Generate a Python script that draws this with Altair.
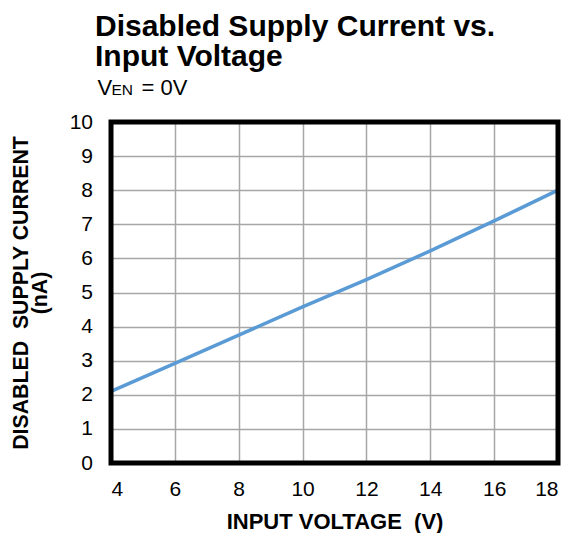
import altair as alt
import pandas as pd

# Data
voltage = [4, 6, 8, 10, 12, 14, 16, 18]
current = [2.1, 2.92, 3.75, 4.58, 5.38, 6.22, 7.1, 8.0]
x_ticks = [4, 6, 8, 10, 12, 14, 16, 18]
y_ticks = [0, 1, 2, 3, 4, 5, 6, 7, 8, 9, 10]

title_lines = ["Disabled Supply Current vs.", "Input Voltage"]
x_title = "INPUT VOLTAGE\u00a0\u00a0(V)"
y_title = ["DISABLED\u00a0\u00a0SUPPLY CURRENT", "(nA)"]
sub_parts = ["V", "EN", "= 0V"]

FONT = "Liberation Sans"
W, H = 447, 341

df = pd.DataFrame({"v": voltage, "i": current})
one = pd.DataFrame({"k": [0]})

line = alt.Chart(df).mark_line(color="#5B9BD5", strokeWidth=3.5).encode(
    x=alt.X(
        "v:Q",
        scale=alt.Scale(domain=[4, 18], nice=False, zero=False),
        axis=alt.Axis(
            values=x_ticks, title=x_title, labelFontSize=21, titleFontSize=22,
            labelPadding=15.5, titlePadding=11.5,
        ),
    ),
    y=alt.Y(
        "i:Q",
        scale=alt.Scale(domain=[0, 10], nice=False),
        axis=alt.Axis(
            values=y_ticks, title=y_title, labelFontSize=21, titleFontSize=21.3,
            titleLineHeight=19, labelPadding=18.5, titlePadding=19,
        ),
    ),
)

frame = alt.Chart(one).mark_rect(
    fillOpacity=0, stroke="black", strokeWidth=5
).encode(x=alt.value(0), x2=alt.value(W), y=alt.value(0), y2=alt.value(H))

sub_v = alt.Chart(one).mark_text(
    text=sub_parts[0], font=FONT, fontSize=22, align="left", baseline="alphabetic", color="black"
).encode(x=alt.value(-13.5), y=alt.value(-27.5))
sub_en = alt.Chart(one).mark_text(
    text=sub_parts[1], font=FONT, fontSize=15.5, align="left", baseline="alphabetic", color="black"
).encode(x=alt.value(0.5), y=alt.value(-27.5))
sub_rest = alt.Chart(one).mark_text(
    text=sub_parts[2], font=FONT, fontSize=22, align="left", baseline="alphabetic", color="black"
).encode(x=alt.value(30.5), y=alt.value(-27.5))

chart = alt.layer(line, frame, sub_v, sub_en, sub_rest).properties(
    width=W,
    height=H,
    autosize=alt.AutoSizeParams(type="none"),
    padding={"left": 103, "right": 11, "top": 114, "bottom": 75},
    title=alt.Title(
        title_lines, anchor="start", frame="group", fontSize=30, font=FONT, fontWeight="bold",
        color="black", dx=-16, offset=-19.5, baseline="alphabetic", lineHeight=30,
    ),
).configure_view(stroke=None).configure_axis(
    labelFont=FONT, titleFont=FONT, labelColor="black", titleColor="black",
    titleFontWeight="bold", ticks=False, tickSize=0, domain=False,
    grid=True, gridColor="#a6a6a6", gridWidth=1.5,
)

chart.save("out.html", embed_options={"renderer": "svg", "actions": False})
